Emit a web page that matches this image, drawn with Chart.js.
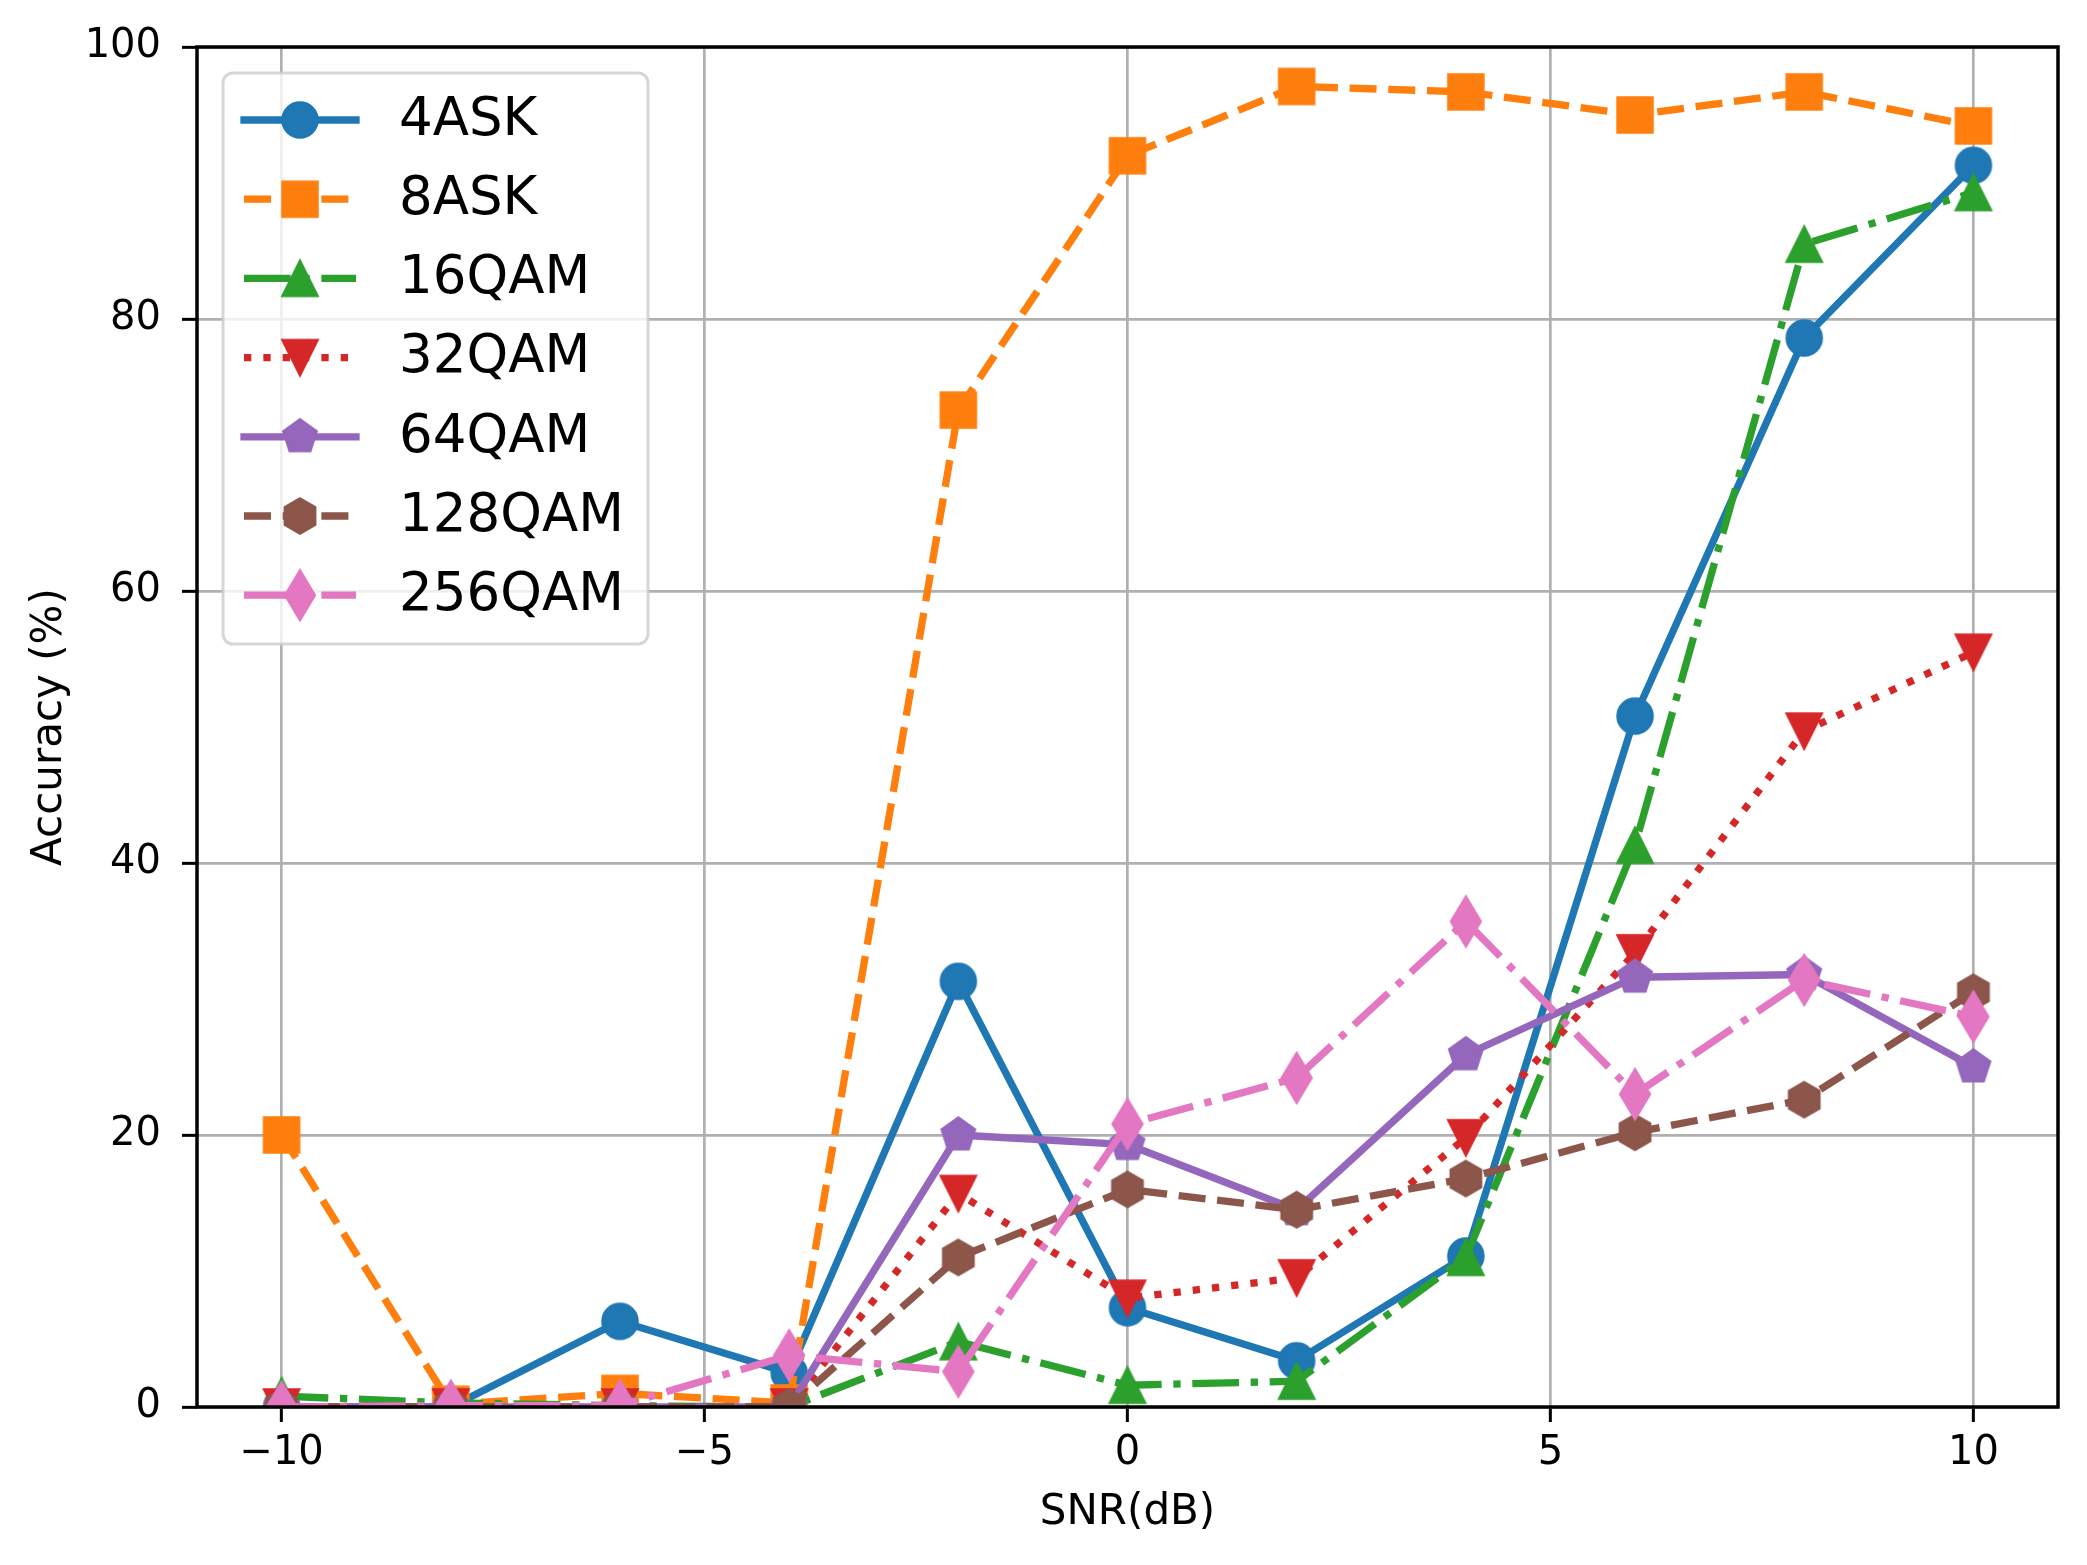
<!DOCTYPE html>
<html>
<head>
<meta charset="utf-8">
<script src="https://cdn.jsdelivr.net/npm/chart.js@4.4.0/dist/chart.umd.min.js"></script>
<style>
  body { margin: 0; background: #fff; }
  #wrap { width: 2087px; height: 1565px; }
</style>
</head>
<body>
<div id="wrap"><canvas id="accChart"></canvas></div>
<script>
// SNR points (dB)
var snr = [-10, -8, -6, -4, -2, 0, 2, 4, 6, 8, 10];

// accuracy (%) per modulation
var ask4   = [0, 0, 6.3, 2.5, 31.3, 7.3, 3.4, 11.1, 50.8, 78.6, 91.3];
var ask8   = [20, 0.2, 1.0, 0.3, 73.3, 92, 97.1, 96.7, 95.0, 96.7, 94.2];
var qam16  = [0.8, 0.3, 0.1, 0, 4.8, 1.6, 1.9, 11.0, 41.3, 85.5, 89.3];
var qam32  = [0, 0, 0, 0, 15.7, 8.0, 9.5, 19.8, 33.4, 49.7, 55.5];
var qam64  = [0, 0, 0, 0, 20.0, 19.3, 14.5, 25.9, 31.6, 31.8, 25.0];
var qam128 = [0, 0, 0, 0, 11.0, 16.0, 14.5, 16.8, 20.2, 22.6, 30.5];
var qam256 = [0, 0.1, 0.1, 3.8, 2.6, 20.8, 24.2, 35.7, 23.0, 31.4, 28.7];

var seriesNames = ['4ASK', '8ASK', '16QAM', '32QAM', '64QAM', '128QAM', '256QAM'];
var xTicks = [-10, -5, 0, 5, 10];
var yTicks = [0, 20, 40, 60, 80, 100];

var LW = 7.3;
var MS = 35;
var FONT = '"DejaVu Sans", "Liberation Sans", sans-serif';

var dashed = [3.7 * LW, 1.6 * LW];
var dashdot = [6.4 * LW, 1.6 * LW, 1 * LW, 1.6 * LW];
var dotted = [1 * LW, 1.65 * LW];

// matplotlib-like markers drawn into small canvases
function makeMarker(shape, color) {
  var c = document.createElement('canvas');
  c.width = 64; c.height = 64;
  var ctx = c.getContext('2d');
  var r = MS / 2;
  ctx.translate(32, 32);
  ctx.beginPath();
  if (shape === 'o') {
    ctx.arc(0, 0, r, 0, Math.PI * 2);
  } else if (shape === 's') {
    ctx.rect(-r, -r, MS, MS);
  } else if (shape === '^' || shape === 'v') {
    var s = shape === '^' ? 1 : -1;
    ctx.moveTo(0, -r * s);
    ctx.lineTo(-r, r * s);
    ctx.lineTo(r, r * s);
    ctx.closePath();
  } else if (shape === 'p' || shape === 'h') {
    var n = shape === 'p' ? 5 : 6;
    for (var i = 0; i < n; i++) {
      var a = -Math.PI / 2 + i * 2 * Math.PI / n;
      var px = Math.cos(a) * r, py = Math.sin(a) * r;
      if (i === 0) ctx.moveTo(px, py); else ctx.lineTo(px, py);
    }
    ctx.closePath();
  } else if (shape === 'd') {
    var h = MS * Math.SQRT2 / 2;
    var w = h * 0.6;
    ctx.moveTo(0, -h);
    ctx.lineTo(w, 0);
    ctx.lineTo(0, h);
    ctx.lineTo(-w, 0);
    ctx.closePath();
  }
  ctx.fillStyle = color;
  ctx.fill();
  ctx.lineWidth = 2.5;
  ctx.lineJoin = 'miter';
  ctx.strokeStyle = color;
  ctx.stroke();
  return c;
}

var colors = ['#1f77b4', '#ff7f0e', '#2ca02c', '#d62728', '#9467bd', '#8c564b', '#e377c2'];
var markers = ['o', 's', '^', 'v', 'p', 'h', 'd'];
var dashes = [[], dashed, dashdot, dotted, [], dashed, dashdot];
var values = [ask4, ask8, qam16, qam32, qam64, qam128, qam256];

var datasets = values.map(function (vals, i) {
  return {
    label: seriesNames[i],
    data: snr.map(function (x, k) { return { x: x, y: vals[k] }; }),
    borderColor: colors[i],
    backgroundColor: colors[i],
    borderWidth: LW,
    borderDash: dashes[i],
    borderCapStyle: dashes[i].length ? 'butt' : 'square',
    borderJoinStyle: 'round',
    pointStyle: makeMarker(markers[i], colors[i]),
    pointRadius: 18,
    pointHoverRadius: 18,
    tension: 0,
    fill: false,
    clip: 0,
    order: values.length - i
  };
});

var framePlugin = {
  id: 'frame',
  afterDatasetsDraw: function (chart) {
    var a = chart.chartArea, ctx = chart.ctx;
    ctx.save();
    ctx.strokeStyle = '#000';
    ctx.lineWidth = 3.5;
    ctx.strokeRect(a.left, a.top, a.right - a.left, a.bottom - a.top);
    ctx.restore();
  }
};

var legendPlugin = {
  id: 'mplLegend',
  afterDraw: function (chart) {
    var ctx = chart.ctx;
    var bx = 223, by = 73, bw = 425, bh = 571, rad = 10;
    ctx.save();
    ctx.beginPath();
    ctx.moveTo(bx + rad, by);
    ctx.arcTo(bx + bw, by, bx + bw, by + bh, rad);
    ctx.arcTo(bx + bw, by + bh, bx, by + bh, rad);
    ctx.arcTo(bx, by + bh, bx, by, rad);
    ctx.arcTo(bx, by, bx + bw, by, rad);
    ctx.closePath();
    ctx.fillStyle = 'rgba(255,255,255,0.8)';
    ctx.fill();
    ctx.lineWidth = 3;
    ctx.strokeStyle = 'rgba(204,204,204,0.8)';
    ctx.stroke();

    chart.data.datasets.forEach(function (ds, i) {
      var y = 120 + i * 79.2;
      ctx.beginPath();
      ctx.setLineDash(ds.borderDash);
      ctx.lineCap = ds.borderCapStyle;
      ctx.lineWidth = LW;
      ctx.strokeStyle = ds.borderColor;
      ctx.moveTo(244, y);
      ctx.lineTo(356, y);
      ctx.stroke();
      ctx.setLineDash([]);
      var m = ds.pointStyle;
      ctx.drawImage(m, 300 - m.width / 2, y - m.height / 2);
      ctx.fillStyle = '#000';
      ctx.font = '53px ' + FONT;
      ctx.textBaseline = 'middle';
      ctx.textAlign = 'left';
      ctx.fillText(ds.label, 399, y + 1);
    });
    ctx.restore();
  }
};

new Chart(document.getElementById('accChart'), {
  type: 'line',
  data: { datasets: datasets },
  plugins: [framePlugin, legendPlugin],
  options: {
    responsive: true,
    maintainAspectRatio: false,
    animation: false,
    events: [],
    layout: { padding: { top: 47, right: 29, left: 0, bottom: 0 } },
    plugins: {
      legend: { display: false },
      tooltip: { enabled: false }
    },
    scales: {
      x: {
        type: 'linear',
        min: -11,
        max: 11,
        afterFit: function (s) { s.height = 158; },
        afterBuildTicks: function (s) { s.ticks = xTicks.map(function (v) { return { value: v }; }); },
        border: { display: false },
        grid: { color: '#b0b0b0', lineWidth: 2.7, tickColor: '#000', tickWidth: 3, tickLength: 15 },
        ticks: {
          color: '#000',
          padding: 8,
          maxRotation: 0,
          font: { family: FONT, size: 40 },
          callback: function (v) { return v < 0 ? '\u2212' + Math.abs(v) : String(v); }
        },
        title: {
          display: true,
          text: 'SNR(dB)',
          color: '#000',
          font: { family: FONT, size: 42 },
          padding: { top: 0, bottom: 27 }
        }
      },
      y: {
        min: 0,
        max: 100,
        afterFit: function (s) { s.width = 197; },
        afterBuildTicks: function (s) { s.ticks = yTicks.map(function (v) { return { value: v }; }); },
        border: { display: false },
        grid: { color: '#b0b0b0', lineWidth: 2.7, tickColor: '#000', tickWidth: 3, tickLength: 15 },
        ticks: {
          color: '#000',
          padding: 21,
          font: { family: FONT, size: 40 }
        },
        title: {
          display: true,
          text: 'Accuracy (%)',
          color: '#000',
          font: { family: FONT, size: 42 },
          padding: { top: 25, bottom: 0 }
        }
      }
    }
  }
});
</script>
</body>
</html>
